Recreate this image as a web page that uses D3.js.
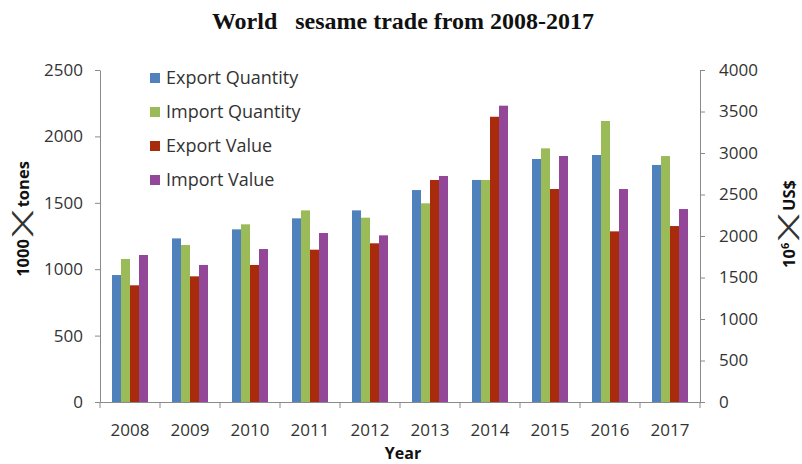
<!DOCTYPE html>
<html>
<head>
<meta charset="utf-8">
<script src="https://cdn.jsdelivr.net/npm/d3@7/dist/d3.min.js"></script>
<style>
  html, body { margin: 0; padding: 0; background: #fff; }
  svg { display: block; }
</style>
</head>
<body>
<script>
// Years on the category axis
const years = ["2008","2009","2010","2011","2012","2013","2014","2015","2016","2017"];

// Quantities, 1000 × tonnes (left axis)
const exportQuantity = [956, 1232, 1300, 1383, 1443, 1596, 1672, 1830, 1860, 1785];
const importQuantity = [1077, 1182, 1338, 1443, 1388, 1496, 1672, 1910, 2116, 1852];

// Values, 10^6 US$ (right axis)
const exportValue = [1406, 1514, 1651, 1835, 1912, 2675, 3437, 2566, 2056, 2120];
const importValue = [1771, 1651, 1843, 2036, 2008, 2723, 3570, 2964, 2566, 2325];

const leftTicks = [0, 500, 1000, 1500, 2000, 2500];
const rightTicks = [0, 500, 1000, 1500, 2000, 2500, 3000, 3500, 4000];

const seriesNames = ["Export Quantity", "Import Quantity", "Export Value", "Import Value"];
const seriesColors = ["#4F81BD", "#9BBB59", "#A82B0C", "#934799"];

const W = 802, H = 464;
const plot = { left: 100, right: 700, top: 70, bottom: 402 };
const axisColor = "#8a8a8a";
const textColor = "#333";
const sans = "'Open Sans', 'DejaVu Sans', sans-serif";

const svg = d3.select("body").append("svg")
  .attr("width", W).attr("height", H);

// Scales
const x = d3.scaleBand().domain(years).range([plot.left, plot.right]).padding(0);
const xInner = d3.scaleBand().domain(seriesNames).range([12, 48]).padding(0);
const yLeft = d3.scaleLinear().domain([0, 2500]).range([plot.bottom, plot.top]);
const yRight = d3.scaleLinear().domain([0, 4000]).range([plot.bottom, plot.top]);

// Bars
const rows = years.map((yr, i) => ({
  year: yr,
  bars: [
    { s: seriesNames[0], v: exportQuantity[i], scale: yLeft },
    { s: seriesNames[1], v: importQuantity[i], scale: yLeft },
    { s: seriesNames[2], v: exportValue[i], scale: yRight },
    { s: seriesNames[3], v: importValue[i], scale: yRight }
  ]
}));

const color = d3.scaleOrdinal().domain(seriesNames).range(seriesColors);

svg.append("g").selectAll("g")
  .data(rows).join("g")
  .attr("transform", d => `translate(${x(d.year)},0)`)
  .selectAll("rect")
  .data(d => d.bars).join("rect")
  .attr("x", d => xInner(d.s))
  .attr("width", xInner.bandwidth())
  .attr("y", d => d.scale(d.v))
  .attr("height", d => plot.bottom - d.scale(d.v))
  .attr("fill", d => color(d.s));

const fmt = d3.format("d");

// Left axis
const gL = svg.append("g")
  .attr("transform", `translate(${plot.left},0)`)
  .call(d3.axisLeft(yLeft).tickValues(leftTicks).tickFormat(fmt).tickSize(5).tickSizeOuter(0).tickPadding(12));
gL.selectAll("text").attr("font-family", sans).attr("font-size", 17).attr("fill", textColor);

// Right axis
const gR = svg.append("g")
  .attr("transform", `translate(${plot.right},0)`)
  .call(d3.axisRight(yRight).tickValues(rightTicks).tickFormat(fmt).tickSize(5).tickSizeOuter(0).tickPadding(14));
gR.selectAll("text").attr("font-family", sans).attr("font-size", 17).attr("fill", textColor);

// Bottom axis: tick marks on the category boundaries, labels centred in each band
const gB = svg.append("g")
  .attr("transform", `translate(0,${plot.bottom})`)
  .call(d3.axisBottom(x).tickSize(0).tickPadding(22));
gB.selectAll("text").attr("font-family", sans).attr("font-size", 17).attr("fill", textColor);
gB.selectAll(".bound")
  .data(d3.range(years.length + 1)).join("line")
  .attr("class", "bound")
  .attr("x1", i => plot.left + i * x.step()).attr("x2", i => plot.left + i * x.step())
  .attr("y1", 0).attr("y2", 6)
  .attr("stroke", axisColor);

svg.selectAll(".domain, .tick line").attr("stroke", axisColor);

// Title
svg.append("text")
  .attr("x", 403).attr("y", 29)
  .attr("text-anchor", "middle")
  .attr("font-family", "'Liberation Serif', 'Times New Roman', serif")
  .attr("font-weight", "bold")
  .attr("font-size", 24)
  .attr("fill", "#111")
  .style("white-space", "pre")
  .text("World   sesame trade from 2008-2017");

// Rotated axis titles, laid out piece by piece: words, a thin cross, words
function axisTitle(cx, cy, before, sup, after) {
  const g = svg.append("g").attr("transform", `translate(${cx},${cy}) rotate(-90)`);
  const parts = [];
  const t1 = g.append("text")
    .attr("font-family", sans).attr("font-weight", "bold").attr("font-size", 16.5)
    .attr("fill", "#111").attr("dy", "0.36em");
  t1.append("tspan").text(before);
  if (sup) t1.append("tspan").attr("font-size", 11).attr("dy", -6).text(sup);
  parts.push({ node: t1, w: t1.node().getComputedTextLength(), gap: 4 });
  const cross = g.append("text")
    .attr("font-family", "'DejaVu Sans', sans-serif").attr("font-size", 18)
    .attr("fill", "#333").attr("dy", "0.33em")
    .text("╳");
  const cw = cross.node().getComputedTextLength();
  parts.push({ node: cross, w: cw * 2.1, scale: 2.1, gap: 5 });
  const t2 = g.append("text")
    .attr("font-family", sans).attr("font-weight", "bold").attr("font-size", 16.5)
    .attr("fill", "#111").attr("dy", "0.36em")
    .text(after);
  parts.push({ node: t2, w: t2.node().getComputedTextLength(), gap: 0 });
  const total = d3.sum(parts, p => p.w + p.gap);
  let pos = -total / 2;
  parts.forEach(p => {
    if (p.scale) p.node.attr("transform", `translate(${pos},0) scale(${p.scale},1)`);
    else p.node.attr("x", pos);
    pos += p.w + p.gap;
  });
}
axisTitle(23, 219, "1000", null, "tones");
axisTitle(789, 224, "10", "6", "US$");

svg.append("text")
  .attr("x", 403).attr("y", 459)
  .attr("text-anchor", "middle")
  .attr("font-family", sans).attr("font-weight", "bold").attr("font-size", 16)
  .attr("fill", "#111")
  .text("Year");

// Legend
const legend = svg.append("g").selectAll("g")
  .data(seriesNames).join("g")
  .attr("transform", (d, i) => `translate(150,${78 + i * 34})`);
legend.append("rect")
  .attr("x", 0).attr("y", -5).attr("width", 10).attr("height", 10)
  .attr("fill", d => color(d));
legend.append("text")
  .attr("x", 16).attr("y", 0).attr("dy", "0.35em")
  .attr("font-family", sans).attr("font-size", 18).attr("fill", textColor)
  .text(d => d);
</script>
</body>
</html>
